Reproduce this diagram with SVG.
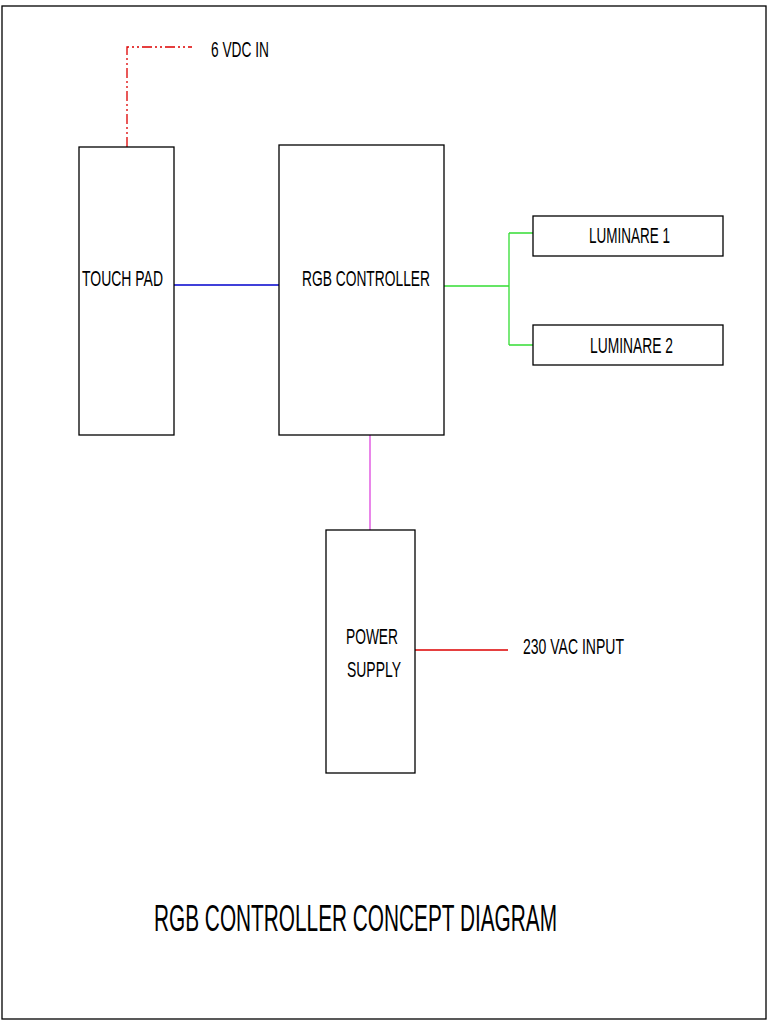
<svg xmlns="http://www.w3.org/2000/svg" width="768" height="1024" viewBox="0 0 768 1024">
<style>
.b{fill:#fff;stroke:#000;stroke-width:1.3}
text{font-family:"Liberation Sans",Arial,sans-serif;font-size:22px;fill:#000}
.c{fill:none;stroke-width:1.3}
</style>
<rect x="0" y="0" width="768" height="1024" fill="#fff"/>
<rect x="2" y="6" width="764" height="1013" fill="none" stroke="#000" stroke-width="1.3"/>
<g id="connectors">
<path class="c" d="M127 147V47H192" stroke="#d00" stroke-dasharray="10 3 2 3 2 3"/>
<path class="c" d="M174 285H279" stroke="#00c"/>
<path class="c" d="M444 286H509M509 233V345M509 233H533M509 345H533" stroke="#3d3"/>
<path class="c" d="M370 435V530" stroke="#d4d"/>
<path class="c" d="M415 650H508" stroke="#d00"/>
</g>
<g id="touchpad"><rect class="b" x="79" y="147" width="95" height="288"/><text x="82" y="286" textLength="81" lengthAdjust="spacingAndGlyphs">TOUCH PAD</text></g>
<g id="rgb"><rect class="b" x="279" y="145" width="165" height="290"/><text x="302" y="286" textLength="128" lengthAdjust="spacingAndGlyphs">RGB CONTROLLER</text></g>
<g id="lum1"><rect class="b" x="533" y="216" width="190" height="40"/><text x="589" y="243" textLength="81" lengthAdjust="spacingAndGlyphs">LUMINARE 1</text></g>
<g id="lum2"><rect class="b" x="533" y="325" width="190" height="40"/><text x="590" y="353" textLength="83" lengthAdjust="spacingAndGlyphs">LUMINARE 2</text></g>
<g id="psu"><rect class="b" x="326" y="530" width="89" height="243"/><text x="346" y="644" textLength="52" lengthAdjust="spacingAndGlyphs">POWER</text><text x="347" y="677" textLength="54" lengthAdjust="spacingAndGlyphs">SUPPLY</text></g>
<g id="labels">
<text x="211" y="57" textLength="58" lengthAdjust="spacingAndGlyphs">6 VDC IN</text>
<text x="523" y="654" textLength="101" lengthAdjust="spacingAndGlyphs">230 VAC INPUT</text>
<text x="154" y="931" style="font-size:37px" textLength="403" lengthAdjust="spacingAndGlyphs">RGB CONTROLLER CONCEPT DIAGRAM</text>
</g>
</svg>
